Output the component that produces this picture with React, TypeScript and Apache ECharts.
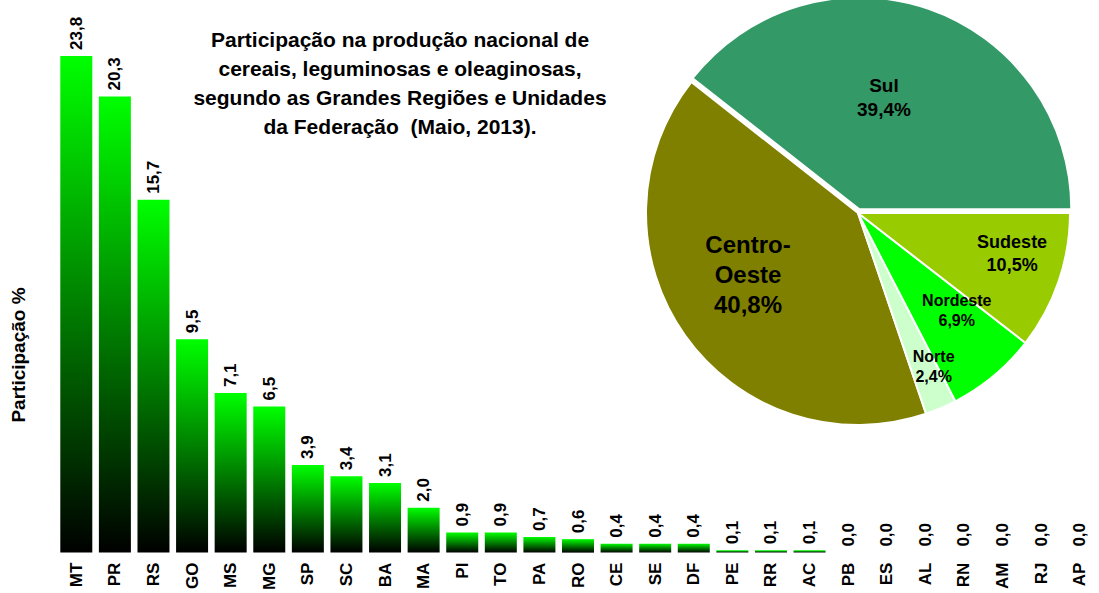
import React, { useEffect, useRef } from 'react';
import * as echarts from 'echarts';

const categories = ['MT', 'PR', 'RS', 'GO', 'MS', 'MG', 'SP', 'SC', 'BA', 'MA', 'PI', 'TO', 'PA', 'RO', 'CE', 'SE', 'DF', 'PE', 'RR', 'AC', 'PB', 'ES', 'AL', 'RN', 'AM', 'RJ', 'AP'];
const values = [23.8, 20.3, 15.7, 9.5, 7.1, 6.5, 3.9, 3.4, 3.1, 2.0, 0.9, 0.9, 0.7, 0.6, 0.4, 0.4, 0.4, 0.1, 0.1, 0.1, 0.0, 0.0, 0.0, 0.0, 0.0, 0.0, 0.0];

const regionNames = ['Sul', 'Centro-Oeste', 'Norte', 'Nordeste', 'Sudeste'];
const regionValues = [39.4, 40.8, 2.4, 6.9, 10.5];
const regionColors = ['#339966', '#808000', '#CCFFCC', '#00FF00', '#99CC00'];
const regionFontSizes = [19, 24, 16, 16, 18];
const regionLabelShift = [[-11, -9], [-21, -1], [33, 53], [29, 14], [51, 5]];

const titleLines = [
  'Participação na produção nacional de',
  'cereais, leguminosas e oleaginosas,',
  'segundo as Grandes Regiões e Unidades',
  'da Federação  (Maio, 2013).',
];
const yAxisTitle = 'Participação %';

const FONT = "'Liberation Sans', Arial, Helvetica, sans-serif";
const fmt = (v: number) => v.toFixed(1).replace('.', ',');

export default function App() {
  const ref = useRef<HTMLDivElement>(null);

  useEffect(() => {
    if (!ref.current) return;
    const chart = echarts.init(ref.current, undefined, { renderer: 'svg' });
    const option: any = {
      animation: false,
      backgroundColor: '#ffffff',
      title: {
        text: titleLines.join('\n'),
        left: 400,
        top: 25,
        padding: 0,
        textAlign: 'center',
        textStyle: { fontFamily: FONT, fontSize: 21, fontWeight: 'bold', color: '#000', lineHeight: 29 },
      },
      grid: { left: 57, right: -8, top: 56, bottom: 37 },
      xAxis: {
        type: 'category',
        data: categories,
        axisLine: { show: false },
        axisTick: { show: false },
        splitLine: { show: false },
        axisLabel: { interval: 0, rotate: 90, margin: 10, fontSize: 17, fontWeight: 'bold', color: '#000', fontFamily: FONT },
      },
      yAxis: { type: 'value', min: 0, max: 22.1, show: false, splitLine: { show: false } },
      graphic: [
        {
          type: 'text',
          x: 18,
          y: 355,
          rotation: Math.PI / 2,
          style: { text: yAxisTitle, fill: '#000', font: `bold 19px ${FONT}`, textAlign: 'center', textVerticalAlign: 'middle' },
        },
      ],
      series: [
        {
          type: 'bar',
          data: values,
          barWidth: 32,
          clip: true,
          itemStyle: {
            color: new echarts.graphic.LinearGradient(0, 0, 0, 1, [
              { offset: 0, color: '#00FF00' },
              { offset: 1, color: '#000000' },
            ]),
          },
          label: {
            show: true,
            position: 'top',
            rotate: 90,
            align: 'left',
            verticalAlign: 'middle',
            distance: 6,
            formatter: (p: any) => fmt(p.value),
            fontSize: 17,
            fontWeight: 'bold',
            color: '#000',
            fontFamily: FONT,
          },
        },
        {
          type: 'pie',
          center: [858, 213],
          radius: 212,
          clockwise: false,
          startAngle: 0,
          selectedMode: 'single',
          selectedOffset: 4,
          avoidLabelOverlap: false,
          itemStyle: { borderColor: '#ffffff', borderWidth: 2 },
          labelLine: { show: false },
          emphasis: { disabled: true },
          label: {
            show: true,
            position: 'inside',
            color: '#000',
            fontWeight: 'bold',
            fontFamily: FONT,
            formatter: (p: any) => `${String(p.name).replace('-', '-\n')}\n${fmt(p.value)}%`,
          },
          labelLayout: (p: any) => ({ dx: regionLabelShift[p.dataIndex][0], dy: regionLabelShift[p.dataIndex][1] }),
          data: regionNames.map((n, i) => ({
            name: n,
            value: regionValues[i],
            selected: i === 0,
            itemStyle: { color: regionColors[i] },
            label: { fontSize: regionFontSizes[i], lineHeight: Math.round(regionFontSizes[i] * 1.25) },
          })),
        },
      ],
    };
    chart.setOption(option);
    return () => chart.dispose();
  }, []);

  return <div ref={ref} style={{ position: 'fixed', left: 0, top: 0, width: 1099, height: 593 }} />;
}
